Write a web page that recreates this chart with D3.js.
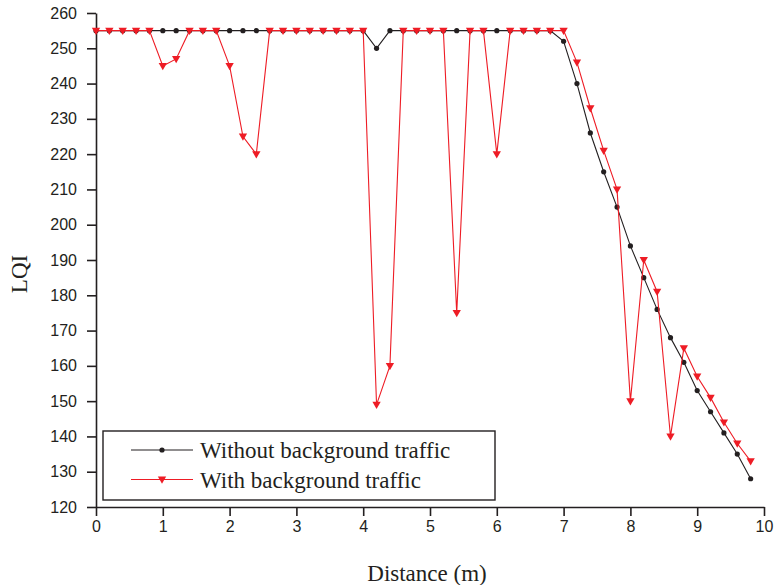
<!DOCTYPE html>
<html>
<head>
<meta charset="utf-8">
<script src="https://cdn.jsdelivr.net/npm/d3@7"></script>
<style>
  body{margin:0;background:#fff;}
  svg{display:block;}
  .tick text{font-family:"Liberation Sans",Arial,sans-serif;font-size:16px;fill:#231f20;}
  .tick line,.domain{stroke:#231f20;stroke-width:1.6px;}
</style>
</head>
<body>
<svg id="canvas" width="775" height="585"></svg>
<script>
// distance in metres, 0.2 m step
const distance=[0,0.2,0.4,0.6,0.8,1,1.2,1.4,1.6,1.8,2,2.2,2.4,2.6,2.8,3,3.2,3.4,3.6,3.8,4,4.2,4.4,4.6,4.8,5,5.2,5.4,5.6,5.8,6,6.2,6.4,6.6,6.8,7,7.2,7.4,7.6,7.8,8,8.2,8.4,8.6,8.8,9,9.2,9.4,9.6,9.8]
const withoutTraffic=[255,255,255,255,255,255,255,255,255,255,255,255,255,255,255,255,255,255,255,255,255,250,255,255,255,255,255,255,255,255,255,255,255,255,255,252,240,226,215,205,194,185,176,168,161,153,147,141,135,128]
const withTraffic=[255,255,255,255,255,245,247,255,255,255,245,225,220,255,255,255,255,255,255,255,255,149,160,255,255,255,255,175,255,255,220,255,255,255,255,255,246,233,221,210,150,190,181,140,165,157,151,144,138,133]
const xTicks=[0,1,2,3,4,5,6,7,8,9,10]
const yTicks=[120,130,140,150,160,170,180,190,200,210,220,230,240,250,260]
const seriesNames=["Without background traffic","With background traffic"]

const svg=d3.select("#canvas")
const plotLeft=96,plotRight=764,plotTop=13,plotBottom=507
const black="#231f20",red="#ee1c25"
const serif="'Liberation Serif','Times New Roman',serif"

const x=d3.scaleLinear().domain([0,10]).range([plotLeft,plotRight])
const y=d3.scaleLinear().domain([120,260]).range([plotBottom,plotTop])

svg.append("g")
    .attr("transform",`translate(0,${plotBottom})`)
    .call(d3.axisBottom(x).tickValues(xTicks).tickSize(9).tickPadding(5).tickSizeOuter(0))
svg.append("g")
    .attr("transform",`translate(${plotLeft},0)`)
    .call(d3.axisLeft(y).tickValues(yTicks).tickSize(9).tickPadding(10).tickSizeOuter(0))

const line=d3.line().x((d,i)=>x(distance[i])).y(d=>y(d))

const tri=d3.symbol().type(d3.symbolTriangle).size(30)

// black series
svg.append("path")
    .datum(withoutTraffic)
    .attr("d",line)
    .attr("fill","none")
    .attr("stroke",black)
    .attr("stroke-width",1.1)
svg.append("g").selectAll("circle")
    .data(withoutTraffic)
    .enter()
    .append("circle")
    .attr("cx",(d,i)=>x(distance[i]))
    .attr("cy",d=>y(d))
    .attr("r",2.6)
    .attr("fill",black)

// red series
svg.append("path")
    .datum(withTraffic)
    .attr("d",line)
    .attr("fill","none")
    .attr("stroke",red)
    .attr("stroke-width",1.1)
svg.append("g").selectAll("path")
    .data(withTraffic)
    .enter()
    .append("path")
    .attr("d",tri)
    .attr("transform",(d,i)=>`translate(${x(distance[i])},${y(d)-0.5}) rotate(180)`)
    .attr("fill",red)

// legend
const legend=svg.append("g")
legend.append("rect")
    .attr("x",103).attr("y",431)
    .attr("width",392).attr("height",69)
    .attr("fill","#fff")
    .attr("stroke",black)
    .attr("stroke-width",1.4)
const items=legend.selectAll("g.item")
    .data(seriesNames)
    .enter()
    .append("g")
    .attr("class","item")
    .attr("transform",(d,i)=>`translate(0,${450+i*29.5})`)
items.append("line")
    .attr("x1",131).attr("x2",193)
    .attr("stroke",(d,i)=>i==0?black:red)
    .attr("stroke-width",1.1)
items.each(function(d,i){
    const g=d3.select(this)
    if(i==0){
        g.append("circle").attr("cx",162).attr("cy",0).attr("r",2.6).attr("fill",black)
    }else{
        g.append("path").attr("d",tri).attr("transform","translate(162,-0.5) rotate(180)").attr("fill",red)
    }
})
items.append("text")
    .text(d=>d)
    .attr("x",200)
    .attr("y",8)
    .attr("font-family",serif)
    .attr("font-size",23)
    .attr("fill",black)

// axis titles
svg.append("text")
    .text("Distance (m)")
    .attr("x",427)
    .attr("y",581)
    .attr("text-anchor","middle")
    .attr("font-family",serif)
    .attr("font-size",23)
    .attr("fill",black)
svg.append("text")
    .text("LQI")
    .attr("transform","translate(27,274) rotate(-90)")
    .attr("text-anchor","middle")
    .attr("font-family",serif)
    .attr("font-size",23)
    .attr("fill",black)
</script>
</body>
</html>
